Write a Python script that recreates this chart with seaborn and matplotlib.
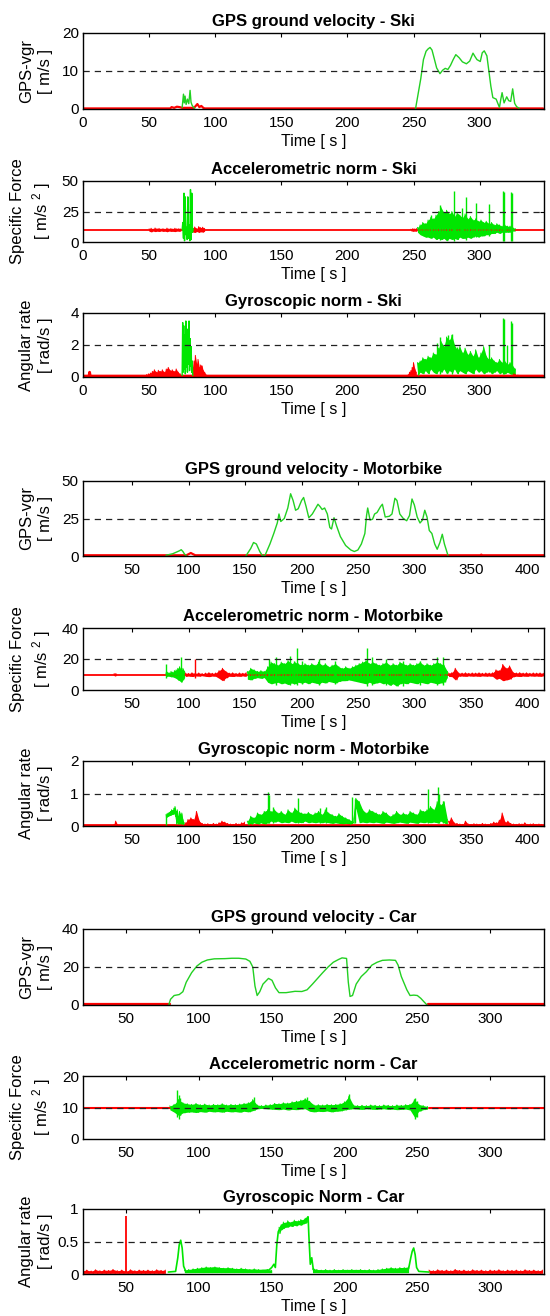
import numpy as np
import matplotlib
matplotlib.use("Agg")
import matplotlib.pyplot as plt
import seaborn as sns

RED = "#ff0000"
GREEN = "#00e600"
GPS_GREEN = "#22d022"

# ---------------- Ski ----------------
ski_gps_red_t = [0, 66, 67, 69, 71, 73, 75, 84, 85, 86.5, 88, 89.5, 91, 92, 348]
ski_gps_red_v = [0.15, 0.15, 0.5, 0.3, 0.6, 0.5, 0.3, 0.3, 0.7, 1.3, 0.5, 0.8, 0.3, 0.15, 0.15]
ski_gps_g1_t = [75, 76, 76.6, 77.2, 78, 79, 80, 81, 81.7, 82.5, 83.5, 84.5]
ski_gps_g1_v = [0.4, 3.9, 1.6, 3.4, 1.2, 2.6, 1.4, 4.9, 1.8, 1.0, 0.5, 0.2]
ski_gps_g2_t = [251.5, 253, 255.5, 257.5, 259.5, 261, 262.5, 264, 265.5, 267.5,
                270, 272, 274, 276, 278, 280, 282, 284.5, 287, 290,
                292.5, 295, 296.5, 298, 300.5, 302, 303.5, 305.5, 307, 308.5,
                310, 312.5, 315, 316, 317, 318.5, 320.5, 322, 323.5, 325,
                326.5, 328, 330]
ski_gps_g2_v = [0, 3, 8, 13, 15.2, 15.8, 16.2, 15.5, 13.5, 10.8,
                9.3, 10.2, 10.7, 10.4, 11.5, 13.0, 14.3, 13.5, 12.4, 11.9,
                12.6, 14.7, 13.8, 13.0, 12.5, 14.8, 15.3, 14.0, 10.0, 6.0,
                3.0, 2.6, 0.4, 2.5, 4.3, 1.6, 3.2, 2.2, 2.0, 5.3,
                1.5, 0.6, 0.2]

ski_acc_base = 9.8
ski_acc_red_bands = [
    (50, 1.5, [10.8, 11.3, 10.6, 11.5, 10.9, 11.2, 10.7, 11.0, 10.6, 11.4, 10.8, 11.1, 10.7, 11.3, 10.9, 11.0, 10.8],
              [8.8, 8.3, 9.0, 8.5, 8.9, 8.6, 9.1, 8.7, 8.9, 8.4, 9.0, 8.7, 8.8, 8.5, 9.0, 8.8, 9.0]),
    (83, 1.5, [11.5, 12.3, 11.0, 12.6, 11.8, 12.1, 11.2], [8.2, 7.8, 8.6, 7.9, 8.4, 8.1, 8.8]),
    (248, 1.5, [10.5, 11.0, 10.8, 11.2], [9.2, 8.8, 9.0, 8.7]),
]
ski_acc_g1_t = [75, 75.5, 76, 76.4, 76.8, 77.3, 77.8, 78.3, 78.8, 79.3, 79.8, 80.3, 80.8, 81.3, 81.8, 82.3, 82.8, 83.3]
ski_acc_g1_v = [10, 16, 3, 40, 1, 37, 6, 12, 2, 37, 3, 14, 1, 43, 2, 40, 8, 11]
ski_acc_g2_hi = [12, 14, 16, 15, 18, 20, 19, 22, 25, 28, 24, 26, 23, 25, 21, 24, 22, 20, 23, 19,
                 21, 18, 19, 17, 18, 16, 17, 15, 16, 14, 15, 14, 13, 14, 13, 13, 12, 11]
ski_acc_g2_lo = [8, 6, 5, 4, 4, 3, 4, 2, 3, 2, 3, 1, 3, 2, 3, 2, 4, 3, 3, 4,
                 3, 4, 5, 4, 5, 5, 6, 6, 7, 7, 8, 7, 8, 8, 8, 8, 9, 9]
ski_acc_spk_t = [263, 270, 280.5, 287, 290, 297, 307, 317.5, 318.5, 323.5, 324.5]
ski_acc_spk_hi = [22, 30, 42, 28, 37, 32, 31, 42, 41, 41, 40]
ski_acc_spk_lo = [5, 2, 1, 3, 2, 4, 5, 0.5, 0.5, 1, 1]

ski_gyr_base_t = [0, 4.5, 5, 5.5, 348]
ski_gyr_base_v = [0.06, 0.06, 0.3, 0.06, 0.06]
ski_gyr_red_bands = [
    (48, 1.5, [0.15, 0.2, 0.25, 0.35, 0.45, 0.3, 0.42, 0.35, 0.45, 0.3, 0.5, 0.6, 0.4, 0.45, 0.35, 0.5, 0.3, 0.2], 0.03),
    (83, 1.0, [0.6, 1.0, 1.35, 0.8, 1.1, 0.6, 0.75, 0.7, 0.4, 0.3, 0.15], 0.05),
    (246, 1.0, [0.15, 0.3, 0.4, 0.6, 0.9, 0.5, 0.3], 0.03),
    (325, 1.0, [0.3, 0.25, 0.15, 0.1, 0.12], 0.03),
]
ski_gyr_g1_t = [75, 75.4, 75.8, 76.2, 76.6, 77, 77.4, 77.8, 78.2, 78.6, 79, 79.4, 79.8, 80.2, 80.6, 81, 81.4, 81.8, 82.2, 82.6, 83]
ski_gyr_g1_v = [0.1, 3.4, 0.3, 3.2, 0.5, 2.6, 0.2, 3.5, 0.6, 2.2, 0.3, 3.0, 0.8, 3.5, 0.4, 2.4, 0.7, 1.9, 0.3, 1.0, 0.1]
ski_gyr_g2_hi = [0.9, 1.0, 1.2, 1.1, 1.3, 1.2, 1.5, 1.4, 1.8, 2.2, 1.9, 2.5, 2.3, 2.6, 2.0, 1.7, 1.9, 1.5, 1.8, 1.4,
                 1.6, 1.3, 1.7, 1.2, 1.5, 1.9, 1.3, 1.1, 1.2, 1.0, 0.9, 1.1, 0.9, 1.0, 0.8, 0.9, 0.7, 0.5]
ski_gyr_g2_lo = [0.1, 0.3, 0.2, 0.4, 0.2, 0.5, 0.3, 0.2, 0.4, 0.3, 0.5, 0.2, 0.4, 0.3, 0.5, 0.2, 0.4, 0.3, 0.2, 0.4,
                 0.3, 0.2, 0.5, 0.3, 0.4, 0.2, 0.3, 0.4, 0.2, 0.3, 0.4, 0.2, 0.3, 0.2, 0.3, 0.2, 0.2, 0.1]
ski_gyr_spk_t = [268, 270, 276, 279, 283, 307, 317.5, 318.5, 320.5, 323.5, 324.5]
ski_gyr_spk_hi = [2.1, 2.5, 2.6, 2.7, 1.9, 2.0, 3.7, 3.6, 2.0, 3.5, 3.4]
ski_gyr_spk_lo = [0.3, 0.2, 0.3, 0.2, 0.3, 0.3, 0.2, 0.2, 0.3, 0.2, 0.2]

# ---------------- Motorbike ----------------
moto_gps_red_t = [6.6, 98, 100, 102, 104, 106, 330, 358, 359, 360, 414.5]
moto_gps_red_v = [0.5, 0.5, 1.2, 2.0, 1.2, 0.5, 0.5, 0.5, 0.9, 0.5, 0.5]
moto_gps_g1_t = [80, 83, 86, 89, 92, 93.5, 95, 96.5, 98]
moto_gps_g1_v = [0.5, 1.0, 1.5, 2.5, 3.5, 4.2, 3.0, 1.2, 0.4]
moto_gps_g2_t = [150.7, 155, 157.5, 160, 163, 165.5, 167.7, 172, 175.4, 178.5,
                 180, 181.6, 184.7, 187.8, 190.3, 192.5, 194.7, 197, 200, 201.8,
                 204, 206.4, 209.5, 212.6, 214.5, 216.3, 218.2, 220.4, 222.8, 225,
                 226.5, 228.7, 231, 234.3, 239, 243.6, 246.7, 249.8, 252.9, 256,
                 257.5, 258.5, 260.6, 262.8, 264.6, 266.8, 269.9, 271.5, 274, 277.7,
                 280, 282.6, 284.4, 286.9, 290, 293, 295.5, 297.7, 299.8, 302.3,
                 304.8, 307, 309, 311, 313, 315.3, 317.8, 320, 322.4, 324.5,
                 326.4, 329.5]
moto_gps_g2_v = [0, 5, 9, 8, 3, 0, 0.5, 8, 15, 22,
                 28, 23, 25, 32, 41.5, 37, 30.5, 31.5, 37, 39,
                 33, 25.5, 28, 32, 34.5, 33, 31, 32, 28, 19,
                 18, 25.5, 20, 13, 7, 4, 3, 4, 8, 15,
                 27, 32, 24, 24.5, 28, 29, 33, 34.5, 26, 26.5,
                 28, 38.5, 37, 28, 25, 23.5, 27, 38, 34, 26,
                 22, 24, 30.5, 26, 17, 15, 8, 4.5, 9, 14.5,
                 8, 0.5]

moto_acc_base = 9.8
moto_acc_red_bands = [
    (34, 1.0, [10.4, 10.6, 10.4], [9.3, 9.1, 9.3]),
    (97, 3.0, [11, 10.7, 11.1, 10.8, 11.0, 10.6, 10.9, 11.2, 10.8, 11.0, 12.5, 14, 12.0, 10.9, 11.1, 10.7, 11.0, 10.8, 11.2],
              [8.8, 9.0, 8.7, 9.1, 8.9, 9.2, 8.8, 8.6, 9.0, 8.8, 7.5, 6.0, 7.8, 8.9, 8.7, 9.0, 8.8, 9.1, 8.7]),
    (330, 3.0, [11, 11.2, 14, 11, 10.9, 11.1, 10.8, 11.0, 10.9, 11.1, 10.8, 11.0, 10.9, 11.1, 13, 12.5, 16.5, 14, 15.5, 11.5,
                11.0, 11.2, 10.9, 11.1, 10.8, 11.0, 10.9, 11.0, 10.8],
               [8.8, 8.6, 6.5, 8.9, 9.0, 8.8, 9.1, 8.9, 9.0, 8.8, 9.1, 8.9, 9.0, 8.8, 7, 7.5, 6, 6.5, 7, 8.5,
                8.9, 8.7, 9.0, 8.8, 9.1, 8.9, 9.0, 8.8, 9.1]),
]
moto_acc_red_spk_t = [106]
moto_acc_red_spk_hi = [20]
moto_acc_red_spk_lo = [8]
moto_acc_g1_hi = [11, 11.5, 11, 12, 11.5, 12.5, 13, 14, 15, 13, 14, 12]
moto_acc_g1_lo = [8.5, 9, 8.8, 8.5, 8.5, 8, 7.5, 6.5, 6, 5, 6.5, 8]
moto_acc_g2_hi = [12, 14, 13, 12, 12.5, 12, 15, 18, 17, 16,
                  18, 17, 19, 17, 18, 17, 16, 17, 16, 17,
                  16, 18, 16, 17, 15, 16, 17, 15, 14, 15,
                  14, 15, 16, 17, 18, 19, 17, 18, 17, 16,
                  17, 18, 16, 17, 16, 18, 17, 16, 17, 16,
                  17, 18, 16, 17, 16, 17, 18, 17, 16, 12]
moto_acc_g2_lo = [7, 6.5, 7.5, 8, 7.5, 8, 5, 4, 4.5, 5,
                  4, 4.5, 3.5, 4.5, 4, 5, 4.5, 5, 4, 5,
                  4.5, 4, 5, 4.5, 5.5, 5, 4.5, 5.5, 6, 6,
                  6.5, 6, 5.5, 5, 4.5, 4, 5, 4, 4.5, 5,
                  4, 4.5, 3, 4, 2.5, 4, 4.5, 4, 5, 4.5,
                  4, 5, 4.5, 4, 5, 4.5, 4, 4.5, 5, 8]
moto_acc_spk_t = [80, 93.5, 171, 177, 190, 193, 196, 200, 215, 230, 258, 262, 275, 290, 305, 320, 325]
moto_acc_spk_hi = [17, 21, 20, 21, 22, 19, 27, 19, 20, 19, 27, 21, 20, 19, 19, 21, 21]
moto_acc_spk_lo = [8, 6, 5, 3.5, 3, 4, 3, 4, 3.5, 4, 2.5, 3, 3, 2.5, 3.5, 3, 3]

moto_gyr_base = 0.03
moto_gyr_red_bands = [
    (34, 1.5, [0.05, 0.15, 0.05], 0.01),
    (97, 2.5, [0.1, 0.2, 0.25, 0.2, 0.45, 0.15, 0.08, 0.06, 0.07, 0.05, 0.08, 0.06, 0.1, 0.15, 0.12, 0.08,
               0.06, 0.05, 0.08, 0.06, 0.1, 0.12], 0.01),
    (330, 2.5, [0.15, 0.25, 0.1, 0.08, 0.06, 0.05, 0.15, 0.06, 0.05, 0.07, 0.06, 0.05, 0.08, 0.06, 0.05, 0.08,
                0.12, 0.1, 0.18, 0.4, 0.12, 0.15, 0.08, 0.06, 0.05, 0.07, 0.06, 0.1, 0.05, 0.06, 0.07, 0.05,
                0.06, 0.05], 0.01),
]
moto_gyr_g1_hi = [0.35, 0.38, 0.4, 0.42, 0.45, 0.5, 0.48, 0.55, 0.6, 0.45, 0.5, 0.3, 0.45, 0.35, 0.4, 0.2, 0.1]
moto_gyr_g1_lo = [0.25, 0.28, 0.3, 0.32, 0.33, 0.35, 0.36, 0.38, 0.3, 0.05, 0.1, 0.05, 0.08, 0.05, 0.06, 0.04, 0.03]
moto_gyr_g2_hi = [0.15, 0.3, 0.25, 0.4, 0.35, 0.45, 0.5, 0.45, 0.5, 0.4,
                  0.45, 0.35, 0.5, 0.4, 0.55, 0.45, 0.4, 0.38, 0.42, 0.35,
                  0.4, 0.45, 0.35, 0.5, 0.4, 0.35, 0.3, 0.38, 0.3, 0.25,
                  0.2, 0.15, 0.85, 0.75, 0.5, 0.4, 0.5, 0.45, 0.4, 0.35,
                  0.45, 0.4, 0.3, 0.35, 0.45, 0.35, 0.4, 0.35, 0.45, 0.4,
                  0.35, 0.5, 0.45, 0.5, 0.6, 0.5, 0.75, 0.65, 0.75, 0.2]
moto_gyr_g2_lo = [0.03, 0.05, 0.1, 0.05, 0.1, 0.05, 0.1, 0.15, 0.12, 0.15,
                  0.1, 0.12, 0.1, 0.15, 0.1, 0.12, 0.1, 0.15, 0.1, 0.12,
                  0.1, 0.12, 0.1, 0.12, 0.1, 0.08, 0.1, 0.08, 0.06, 0.08,
                  0.05, 0.08, 0.55, 0.1, 0.12, 0.1, 0.12, 0.1, 0.12, 0.1,
                  0.08, 0.12, 0.1, 0.08, 0.1, 0.12, 0.1, 0.08, 0.12, 0.1,
                  0.08, 0.12, 0.1, 0.12, 0.1, 0.12, 0.1, 0.15, 0.1, 0.03]
moto_gyr_spk_t = [80, 170.5, 171.5, 175, 196.5, 216, 222, 245, 247, 311.5, 320.5, 321.5, 325.5]
moto_gyr_spk_hi = [0.3, 1.05, 0.95, 0.6, 0.85, 0.55, 0.6, 0.88, 0.82, 1.15, 1.2, 1.0, 0.78]
moto_gyr_spk_lo = [0.03, 0.1, 0.1, 0.1, 0.1, 0.1, 0.1, 0.1, 0.1, 0.1, 0.1, 0.1, 0.1]

# ---------------- Car ----------------
car_gps_red1_t = [20.4, 80]
car_gps_red2_t = [257, 337]
car_gps_red_v = [0.4, 0.4]
car_gps_g_t = [79.3, 80.5, 83, 86.5, 89, 91.3, 95, 98.6, 102, 105.8,
               110.6, 117.8, 122.6, 127.4, 132.2, 135, 137, 138.5, 140, 141.8,
               144, 147.8, 150.2, 152.6, 155, 159.9, 166, 170.7, 174.3, 178,
               181.5, 185, 188.7, 192.3, 196, 198.3, 201.4, 202.6, 203.8, 205.5,
               208, 211.5, 215, 218.8, 222.4, 226, 230.8, 235, 236.8, 239,
               242.8, 245, 247.6, 250, 252.4, 254.8, 256.7]
car_gps_g_v = [0, 3, 5, 5.5, 7, 12, 17, 20.5, 22.5, 23.7,
               24.3, 24.4, 24.6, 24.6, 24.2, 23, 20, 10, 5, 7,
               11, 14, 13, 9, 6.5, 6.5, 7.2, 7.1, 8, 11,
               14, 17, 20, 22.5, 24, 24.8, 24.5, 12, 4.5, 5,
               11, 15, 17.5, 21, 22.5, 23.5, 23.7, 23.5, 21, 15,
               8, 5, 5.2, 5, 3.5, 1.5, 0]

car_acc_base = 9.8
car_acc_g_hi = [10.5, 11, 12.5, 11.5, 11.2, 11.0, 11.3, 10.9, 11.1, 10.8,
                11.0, 10.9, 11.2, 10.8, 11.0, 10.9, 11.1, 11.3, 11.5, 12.5,
                10.8, 10.6, 10.8, 10.9, 11.3, 11.2, 11.5, 11.4, 11.8, 12.0,
                12.3, 12.8, 12.0, 10.8, 10.9, 10.8, 11.0, 10.9, 11.0, 11.2,
                11.8, 13.5, 10.8, 10.6, 10.7, 10.6, 10.8, 10.7, 10.6, 10.8,
                10.7, 10.6, 10.8, 10.7, 10.9, 11.0, 12.5, 11.0, 10.6, 10.3]
car_acc_g_lo = [9.3, 8.5, 7.5, 8.3, 8.5, 8.6, 8.4, 8.7, 8.5, 8.8,
                8.6, 8.7, 8.5, 8.8, 8.6, 8.7, 8.5, 8.8, 8.6, 9.0,
                9.6, 9.7, 9.6, 9.5, 9.4, 9.3, 9.5, 9.2, 9.4, 9.3,
                9.5, 9.6, 8.8, 8.6, 8.8, 8.7, 8.9, 8.6, 8.8, 8.9,
                9.2, 9.5, 9.6, 9.5, 9.4, 9.6, 9.5, 9.4, 9.5, 9.6,
                9.4, 9.5, 9.3, 9.4, 9.5, 9.2, 7.0, 8.8, 9.3, 9.5]
car_acc_spk_t = [85, 86, 87, 138, 174, 203, 248.5, 249.5]
car_acc_spk_hi = [15.5, 14, 13, 13.3, 13.3, 14.3, 13, 12]
car_acc_spk_lo = [7, 6.5, 7.5, 9.5, 9.5, 9.5, 6.5, 7]

car_gyr_red_bands = [
    (20, 3.0, [0.05, 0.06, 0.045, 0.065, 0.05, 0.06, 0.055, 0.07, 0.05, 0.06, 0.045, 0.065, 0.05, 0.06, 0.055,
               0.06, 0.05, 0.065, 0.055, 0.06], 0.01),
    (258, 3.0, [0.06, 0.05, 0.065, 0.055, 0.06, 0.05, 0.07, 0.055, 0.06, 0.05, 0.065, 0.055, 0.06, 0.05, 0.06,
                0.055, 0.065, 0.05, 0.06, 0.055, 0.06, 0.05, 0.065, 0.055, 0.06, 0.05, 0.06], 0.01),
]
car_gyr_red_spk_t = [50]
car_gyr_red_spk_hi = [0.9]
car_gyr_red_spk_lo = [0.02]
car_gyr_g_t = [79, 84, 85.5, 86.5, 87.5, 88.5, 89.5, 91, 100, 105,
               110, 115, 120, 130, 140, 148, 150, 151.5, 152.5, 153.5,
               154.5, 155.5, 157, 160, 163, 166, 169, 172, 174, 175,
               175.5, 176.5, 177.5, 178.5, 180, 190, 200, 210, 220, 230,
               240, 244, 245.5, 246.5, 247.5, 248.5, 249.5, 251, 258]
car_gyr_g_v = [0.03, 0.04, 0.25, 0.45, 0.52, 0.4, 0.12, 0.04, 0.06, 0.08,
               0.09, 0.08, 0.07, 0.06, 0.05, 0.06, 0.1, 0.15, 0.1, 0.45,
               0.65, 0.7, 0.75, 0.78, 0.78, 0.8, 0.8, 0.82, 0.85, 0.88,
               0.6, 0.15, 0.25, 0.08, 0.05, 0.04, 0.05, 0.05, 0.04, 0.05,
               0.07, 0.08, 0.25, 0.35, 0.4, 0.3, 0.1, 0.04, 0.03]
car_gyr_g_bands = [
    (90, 3.0, [0.06, 0.07, 0.08, 0.09, 0.1, 0.11, 0.1, 0.11, 0.1, 0.09, 0.1, 0.09, 0.08, 0.09, 0.08, 0.07,
               0.08, 0.07, 0.06, 0.07, 0.06], 0.02),
    (155, 1.5, [0.72, 0.76, 0.8, 0.78, 0.82, 0.79, 0.8, 0.83, 0.8, 0.82, 0.84, 0.82, 0.86, 0.88],
               [0.62, 0.68, 0.7, 0.72, 0.72, 0.74, 0.73, 0.75, 0.74, 0.76, 0.75, 0.77, 0.78, 0.8]),
    (178, 3.0, [0.08, 0.07, 0.06, 0.07, 0.06, 0.07, 0.06, 0.07, 0.06, 0.07, 0.06, 0.07, 0.06, 0.07, 0.06,
                0.07, 0.08, 0.09, 0.1, 0.09, 0.1, 0.1, 0.11], 0.02),
]

# ---------------- layout / labels ----------------
titles = ["GPS ground velocity - Ski", "Accelerometric norm - Ski", "Gyroscopic norm - Ski",
          "GPS ground velocity - Motorbike", "Accelerometric norm - Motorbike", "Gyroscopic norm - Motorbike",
          "GPS ground velocity - Car", "Accelerometric norm - Car", "Gyroscopic Norm - Car"]
ylabels = ["GPS-vgr\n[ m/s ]", "Specific Force\n[ m/s $^2$ ]", "Angular rate\n[ rad/s ]"] * 3
ylims = [(0, 20), (0, 50), (0, 4), (0, 50), (0, 40), (0, 2), (0, 40), (0, 20), (0, 1)]
yticks = [[0, 10, 20], [0, 25, 50], [0, 2, 4], [0, 25, 50], [0, 20, 40], [0, 1, 2],
          [0, 20, 40], [0, 10, 20], [0, 0.5, 1]]
ytick_labels = [None] * 8 + [["0", "0.5", "1"]]
thresholds = [10, 25, 2, 25, 20, 1, 20, 10, 0.5]
xlims = [(0, 348.7)] * 3 + [(6.6, 414.5)] * 3 + [(20.4, 337)] * 3
xticks = [list(range(0, 301, 50))] * 3 + [list(range(50, 401, 50))] * 3 + [list(range(50, 301, 50))] * 3
# (top, bottom) of each axes box in pixels
boxes = [(33, 109), (181, 242), (313, 377), (481, 556), (628, 690), (761, 826),
         (929, 1005), (1076, 1139), (1209, 1274)]

W, H = 550, 1316
sns.set_theme(style="white")
plt.rcParams["font.family"] = ["Liberation Sans", "DejaVu Sans"]
plt.rcParams["mathtext.fontset"] = "custom"
plt.rcParams["mathtext.rm"] = "Liberation Sans"
plt.rcParams["mathtext.it"] = "Liberation Sans:italic"
plt.rcParams["text.color"] = "black"
plt.rcParams["axes.labelcolor"] = "black"
plt.rcParams["axes.titlecolor"] = "black"


def line(ax, t, v, color, lw=1.0):
    sns.lineplot(x=t, y=v, ax=ax, color=color, lw=lw, estimator=None, sort=False, legend=False)


def band(ax, t0, step, hi, lo, color, lw=0.7):
    # noisy signal: envelope fill plus a zigzag between its edges
    hi = np.asarray(hi, float)
    lo = np.broadcast_to(np.asarray(lo, float), hi.shape)
    t = t0 + step * np.arange(len(hi))
    ax.fill_between(t, lo, hi, color=color, lw=0)
    zx = np.column_stack([t, t + step / 2]).ravel()[:-1]
    zy = np.column_stack([hi, lo]).ravel()[:-1]
    ax.plot(zx, zy, color=color, lw=lw)


def spikes(ax, t, hi, lo, color, lw=1.0):
    ax.vlines(t, lo, hi, color=color, lw=lw)


fig = plt.figure(figsize=(W / 100, H / 100), dpi=100)
axes = []
for top, bot in boxes:
    axes.append(fig.add_axes([83 / W, 1 - bot / H, (544 - 83) / W, (bot - top) / H]))

# Ski
ax = axes[0]
line(ax, ski_gps_red_t, ski_gps_red_v, RED, 1.6)
line(ax, ski_gps_g1_t, ski_gps_g1_v, GPS_GREEN, 1.0)
line(ax, ski_gps_g2_t, ski_gps_g2_v, GPS_GREEN, 1.0)

ax = axes[1]
ax.axhline(ski_acc_base, color=RED, lw=1.3)
for t0, st, hi, lo in ski_acc_red_bands:
    band(ax, t0, st, hi, lo, RED)
line(ax, ski_acc_g1_t, ski_acc_g1_v, GREEN, 1.0)
band(ax, 253, 2.0, ski_acc_g2_hi, ski_acc_g2_lo, GREEN)
spikes(ax, ski_acc_spk_t, ski_acc_spk_hi, ski_acc_spk_lo, GREEN)

ax = axes[2]
line(ax, ski_gyr_base_t, ski_gyr_base_v, RED, 2.0)
for t0, st, hi, lo in ski_gyr_red_bands:
    band(ax, t0, st, hi, lo, RED)
line(ax, ski_gyr_g1_t, ski_gyr_g1_v, GREEN, 1.0)
band(ax, 253, 2.0, ski_gyr_g2_hi, ski_gyr_g2_lo, GREEN)
spikes(ax, ski_gyr_spk_t, ski_gyr_spk_hi, ski_gyr_spk_lo, GREEN)

# Motorbike
ax = axes[3]
line(ax, moto_gps_red_t, moto_gps_red_v, RED, 1.6)
line(ax, moto_gps_g1_t, moto_gps_g1_v, GPS_GREEN, 1.0)
line(ax, moto_gps_g2_t, moto_gps_g2_v, GPS_GREEN, 1.0)

ax = axes[4]
ax.axhline(moto_acc_base, color=RED, lw=1.3)
for t0, st, hi, lo in moto_acc_red_bands:
    band(ax, t0, st, hi, lo, RED)
spikes(ax, moto_acc_red_spk_t, moto_acc_red_spk_hi, moto_acc_red_spk_lo, RED)
band(ax, 80, 1.5, moto_acc_g1_hi, moto_acc_g1_lo, GREEN)
band(ax, 152, 3.0, moto_acc_g2_hi, moto_acc_g2_lo, GREEN)
spikes(ax, moto_acc_spk_t, moto_acc_spk_hi, moto_acc_spk_lo, GREEN)

ax = axes[5]
ax.axhline(moto_gyr_base, color=RED, lw=2.0)
for t0, st, hi, lo in moto_gyr_red_bands:
    band(ax, t0, st, hi, lo, RED)
band(ax, 80, 1.0, moto_gyr_g1_hi, moto_gyr_g1_lo, GREEN)
band(ax, 152, 3.0, moto_gyr_g2_hi, moto_gyr_g2_lo, GREEN)
spikes(ax, moto_gyr_spk_t, moto_gyr_spk_hi, moto_gyr_spk_lo, GREEN)

# Car
ax = axes[6]
line(ax, car_gps_red1_t, car_gps_red_v, RED, 1.6)
line(ax, car_gps_red2_t, car_gps_red_v, RED, 1.6)
line(ax, car_gps_g_t, car_gps_g_v, GPS_GREEN, 1.0)

ax = axes[7]
line(ax, car_gps_red1_t, [car_acc_base, car_acc_base], RED, 1.5)
line(ax, [258, 337], [car_acc_base, car_acc_base], RED, 1.5)
band(ax, 80, 3.0, car_acc_g_hi, car_acc_g_lo, GREEN)
spikes(ax, car_acc_spk_t, car_acc_spk_hi, car_acc_spk_lo, GREEN)

ax = axes[8]
for t0, st, hi, lo in car_gyr_red_bands:
    band(ax, t0, st, hi, lo, RED)
spikes(ax, car_gyr_red_spk_t, car_gyr_red_spk_hi, car_gyr_red_spk_lo, RED, 1.3)
line(ax, car_gyr_g_t, car_gyr_g_v, GREEN, 1.2)
for t0, st, hi, lo in car_gyr_g_bands:
    band(ax, t0, st, hi, lo, GREEN, 0.6)

for i, ax in enumerate(axes):
    ax.axhline(thresholds[i], color="#222222", lw=0.9, ls=(0, (5, 4)), zorder=5)
    ax.set_xlim(*xlims[i])
    ax.set_ylim(*ylims[i])
    ax.set_xticks(xticks[i])
    ax.set_yticks(yticks[i])
    if ytick_labels[i] is not None:
        ax.set_yticklabels(ytick_labels[i])
    ax.set_title(titles[i], fontsize=12, fontweight="bold", pad=5)
    ax.set_xlabel("Time [ s ]", fontsize=11.5, labelpad=3)
    ax.set_ylabel(ylabels[i], fontsize=12, linespacing=1.3)
    ax.yaxis.set_label_coords(-0.065, 0.5)
    ax.tick_params(axis="both", direction="in", top=True, right=True, length=3, width=0.8,
                   labelsize=11, colors="black")
    ax.tick_params(axis="x", pad=5)
    ax.tick_params(axis="y", pad=3)
    for s in ax.spines.values():
        s.set_color("black")
        s.set_linewidth(1.0)
        s.set_zorder(6)
    ax.set_facecolor("white")

fig.savefig("out.png", dpi=100, facecolor="white")
